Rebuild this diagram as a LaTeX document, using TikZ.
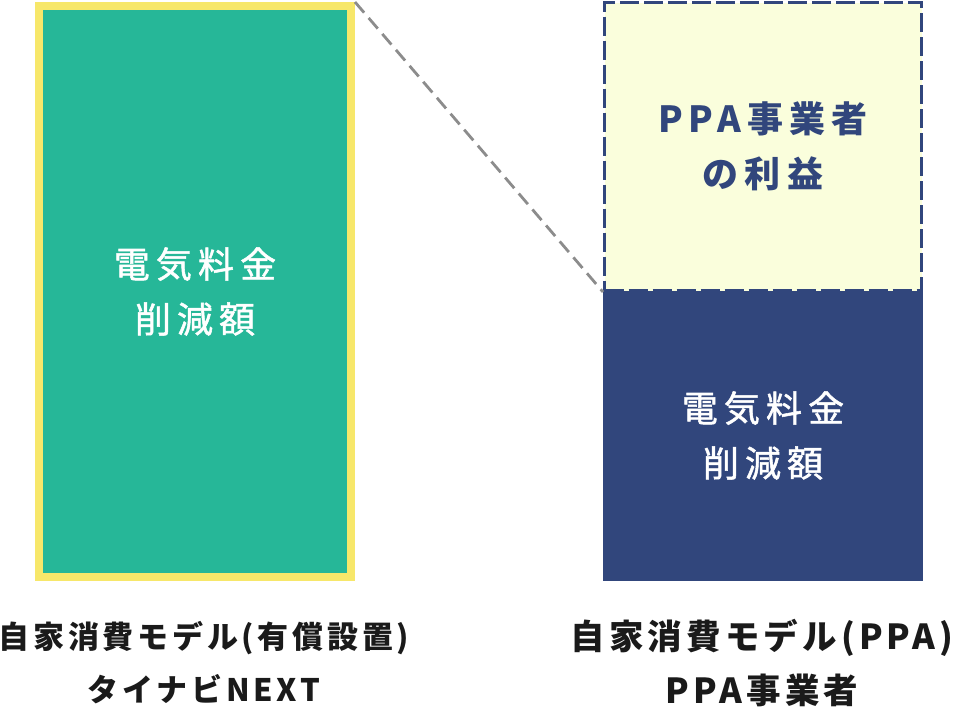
\documentclass[tikz,border=0pt]{standalone}
\usepackage{fontspec}
\newfontfamily\boxfont{Noto Sans CJK JP}[LetterSpace=17,FakeBold=1.4]
\newfontfamily\boxboldfont{Noto Sans CJK JP}[LetterSpace=17]
\newfontfamily\capfont{Noto Sans CJK JP}[LetterSpace=12]
\usetikzlibrary{positioning}
\definecolor{barteal}{RGB}{38,183,152}
\definecolor{baryellow}{RGB}{247,231,106}
\definecolor{barnavy}{RGB}{49,70,124}
\definecolor{barcream}{RGB}{250,254,220}
\definecolor{captext}{RGB}{26,26,26}
\definecolor{guidegray}{RGB}{140,140,140}

\begin{document}
\begin{tikzpicture}[
    x=1pt, y=-1pt,
    bar/.style={rectangle,inner sep=0pt,align=center,
                font=\boxfont\fontsize{36}{55}\selectfont},
    caption/.style={inner sep=0pt,align=center,text=captext,
                font=\capfont\bfseries\fontsize{31}{53}\selectfont},
    guide/.style={draw=guidegray,line width=2.8pt,dash pattern=on 14pt off 7pt}
]
    \useasboundingbox (0,0) rectangle (955,713);
    % left bar
    \node[bar,fill=barteal,draw=baryellow,line width=8pt,text=white,
          minimum width=312pt,minimum height=571pt] (own) at (195,291.5) {電気料金\\削減額};
    % right bar
    \node[bar,fill=barnavy,text=white,
          minimum width=320pt,minimum height=291pt] (saving) at (763,435.5) {電気料金\\削減額};
    \node[bar,fill=barcream,draw=barnavy,line width=3pt,dash pattern=on 19pt off 5pt,
          text=barnavy,minimum width=317pt,minimum height=288pt,
          font=\boxboldfont\bfseries\fontsize{36}{55}\selectfont] (profit) at (763,146.5) {PPA事業者\\の利益};
    \draw[guide] (own.north east) -- (profit.south west);
    % captions
    \node[caption] (owncap) at (204,663) {自家消費モデル(有償設置)\\タイナビNEXT};
    \node[caption,font=\capfont\bfseries\fontsize{34.5}{54}\selectfont] (ppacap) at (762,663) {自家消費モデル(PPA)\\PPA事業者};
\end{tikzpicture}
\end{document}
